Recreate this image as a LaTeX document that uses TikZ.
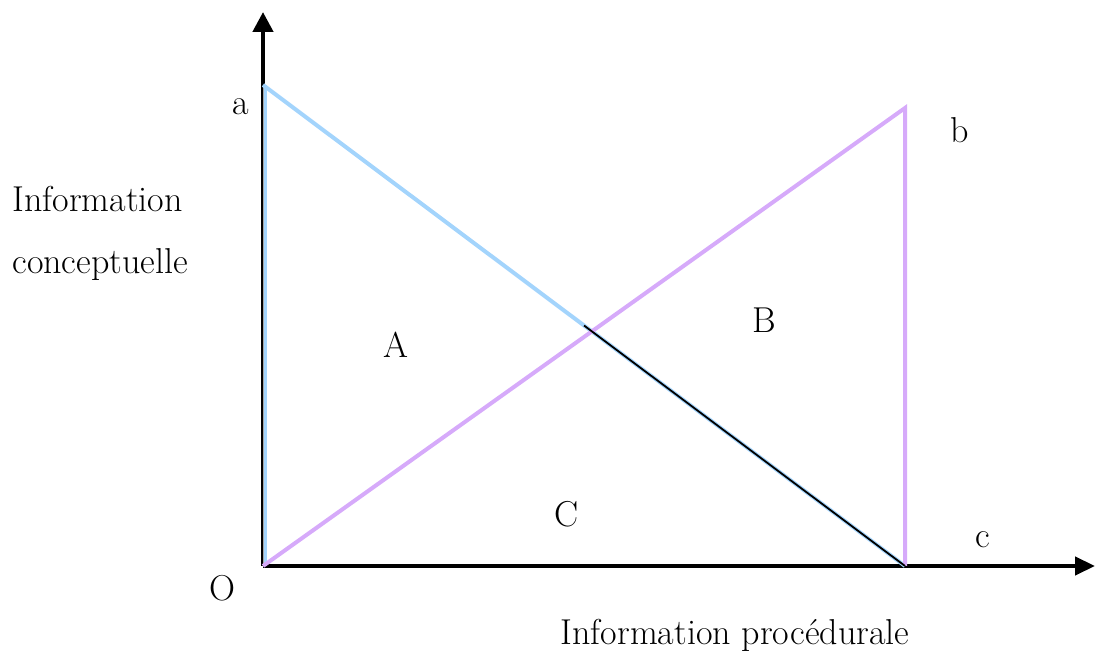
\documentclass[tikz,border=0pt]{standalone}
\usepackage{xcolor}
\usepackage{tikz}
\usetikzlibrary{arrows.meta,calc,positioning}
\definecolor{lblue}{RGB}{163,212,252}
\definecolor{lpurple}{RGB}{214,170,250}
\tikzset{lbl/.style={font=\fontsize{18}{22}\selectfont,inner sep=0pt}}

\begin{document}
\begin{tikzpicture}[x=0.5pt,y=0.5pt]
\useasboundingbox (-263,-86) rectangle (834,566);
\coordinate (O) at (0,0); \coordinate (a) at (0,481); \coordinate (b) at (642,458); \coordinate (c0) at (642,0);
\coordinate (ytip) at (0,554); \coordinate (xtip) at (832,0);
\draw[line width=2.2pt,-{Triangle[length=10pt,width=10pt]}] (O)--(ytip);
\draw[line width=2.2pt,-{Triangle[length=10pt,width=9pt]}] (O)--(xtip);
\draw[lblue,line width=2pt] ($(a)+(1.5,0)$)--($(O)+(1.5,0)$);
\draw[gray!70,line width=0.4pt] ($(a)+(0.2,0)$)--($(O)+(0.2,0)$);
\draw[lblue,line width=2pt] (a)--(c0);
\draw[lpurple,line width=2pt] (O)--(b)--(c0);
\draw[black,line width=0.9pt] ($(a)!0.5!(c0)$)--(c0);
\node[lbl] (la) at (-22,459) {a}; \node[lbl] (lb) at (697,436) {b}; \node[lbl] (lc) at (720,26) {c};
\node[lbl] (lO) at (-41,-22) {O};
\node[lbl] (lA) at (133,221) {A}; \node[lbl] (lB) at (501,246) {B}; \node[lbl] (lC) at (304,52) {C};
\node[lbl,align=left,anchor=west] (ly) at (-251,333) {Information\\[9pt]conceptuelle};
\node[lbl] (lx) at (472,-69) {Information proc\'edurale};
\end{tikzpicture}
\end{document}
